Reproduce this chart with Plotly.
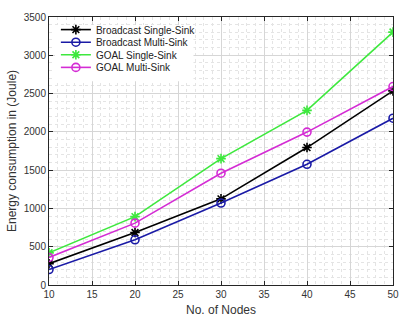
import plotly.graph_objects as go

nodes = [10, 20, 30, 40, 50]
broadcast_single = [278, 685, 1125, 1795, 2535]
broadcast_multi = [202, 590, 1070, 1576, 2178]
goal_single = [420, 893, 1650, 2280, 3303]
goal_multi = [360, 808, 1460, 1997, 2592]

series = [
    ("Broadcast Single-Sink", broadcast_single, "#000000", "asterisk-open"),
    ("Broadcast Multi-Sink", broadcast_multi, "#1a1aa6", "circle-open"),
    ("GOAL Single-Sink", goal_single, "#3ee83e", "asterisk-open"),
    ("GOAL Multi-Sink", goal_multi, "#d42cd4", "circle-open"),
]
legend_ids = ["legend", "legend2", "legend3", "legend4"]

fig = go.Figure()
for (name, vals, col, sym), lid in zip(series, legend_ids):
    fig.add_trace(go.Scatter(
        x=nodes, y=vals, name=name, mode="lines+markers",
        line=dict(color=col, width=1.6),
        marker=dict(symbol=sym, size=8, color=col, line=dict(color=col, width=1.6)),
        legend=lid, showlegend=True,
    ))

font = "Liberation Sans, Arial, sans-serif"
axis_common = dict(
    showline=True, linecolor="#262626", linewidth=1, mirror="ticks",
    ticks="inside", ticklen=4, tickcolor="#262626",
    showgrid=True, gridcolor="#d6d6d6", gridwidth=1,
    zeroline=False,
    tickfont=dict(family=font, size=10, color="#333333"),
)
fig.update_xaxes(
    range=[10, 50], tick0=10, dtick=5,
    title=dict(text="No. of Nodes", font=dict(family=font, size=12, color="#333333"), standoff=6),
    minor=dict(dtick=1, showgrid=True, gridcolor="#e4e4e4", griddash="dot", ticks=""),
    **axis_common,
)
fig.update_yaxes(
    range=[0, 3500], tick0=0, dtick=500,
    title=dict(text="Energy consumption in (Joule)", font=dict(family=font, size=12, color="#333333"), standoff=4),
    minor=dict(dtick=100, showgrid=True, gridcolor="#e4e4e4", griddash="dot", ticks=""),
    **axis_common,
)

# legend box background (plot height 277 px, width 351 px)
fig.add_shape(type="rect", xref="paper", yref="paper",
              x0=0.017, x1=0.42, y0=0.76, y1=0.97,
              fillcolor="white", line=dict(width=0), layer="above")

legend_y = [0.953, 0.906, 0.859, 0.812]
leg_common = dict(
    x=0.02, xanchor="left", yanchor="middle",
    bgcolor="rgba(0,0,0,0)", borderwidth=0,
    font=dict(family=font, size=10, color="#222222"),
    itemwidth=30, visible=True,
)
layout_legends = {lid: dict(y=yy, **leg_common) for lid, yy in zip(legend_ids, legend_y)}

fig.update_layout(
    width=410, height=325,
    margin=dict(l=46, r=13, t=11, b=37),
    paper_bgcolor="white", plot_bgcolor="white",
    font=dict(family=font, size=10, color="#222222"),
    showlegend=True,
    **layout_legends,
)
fig.write_html("out.html", config={"displayModeBar": False},
               post_script="document.body.style.margin='0';document.body.style.overflow='hidden';")
